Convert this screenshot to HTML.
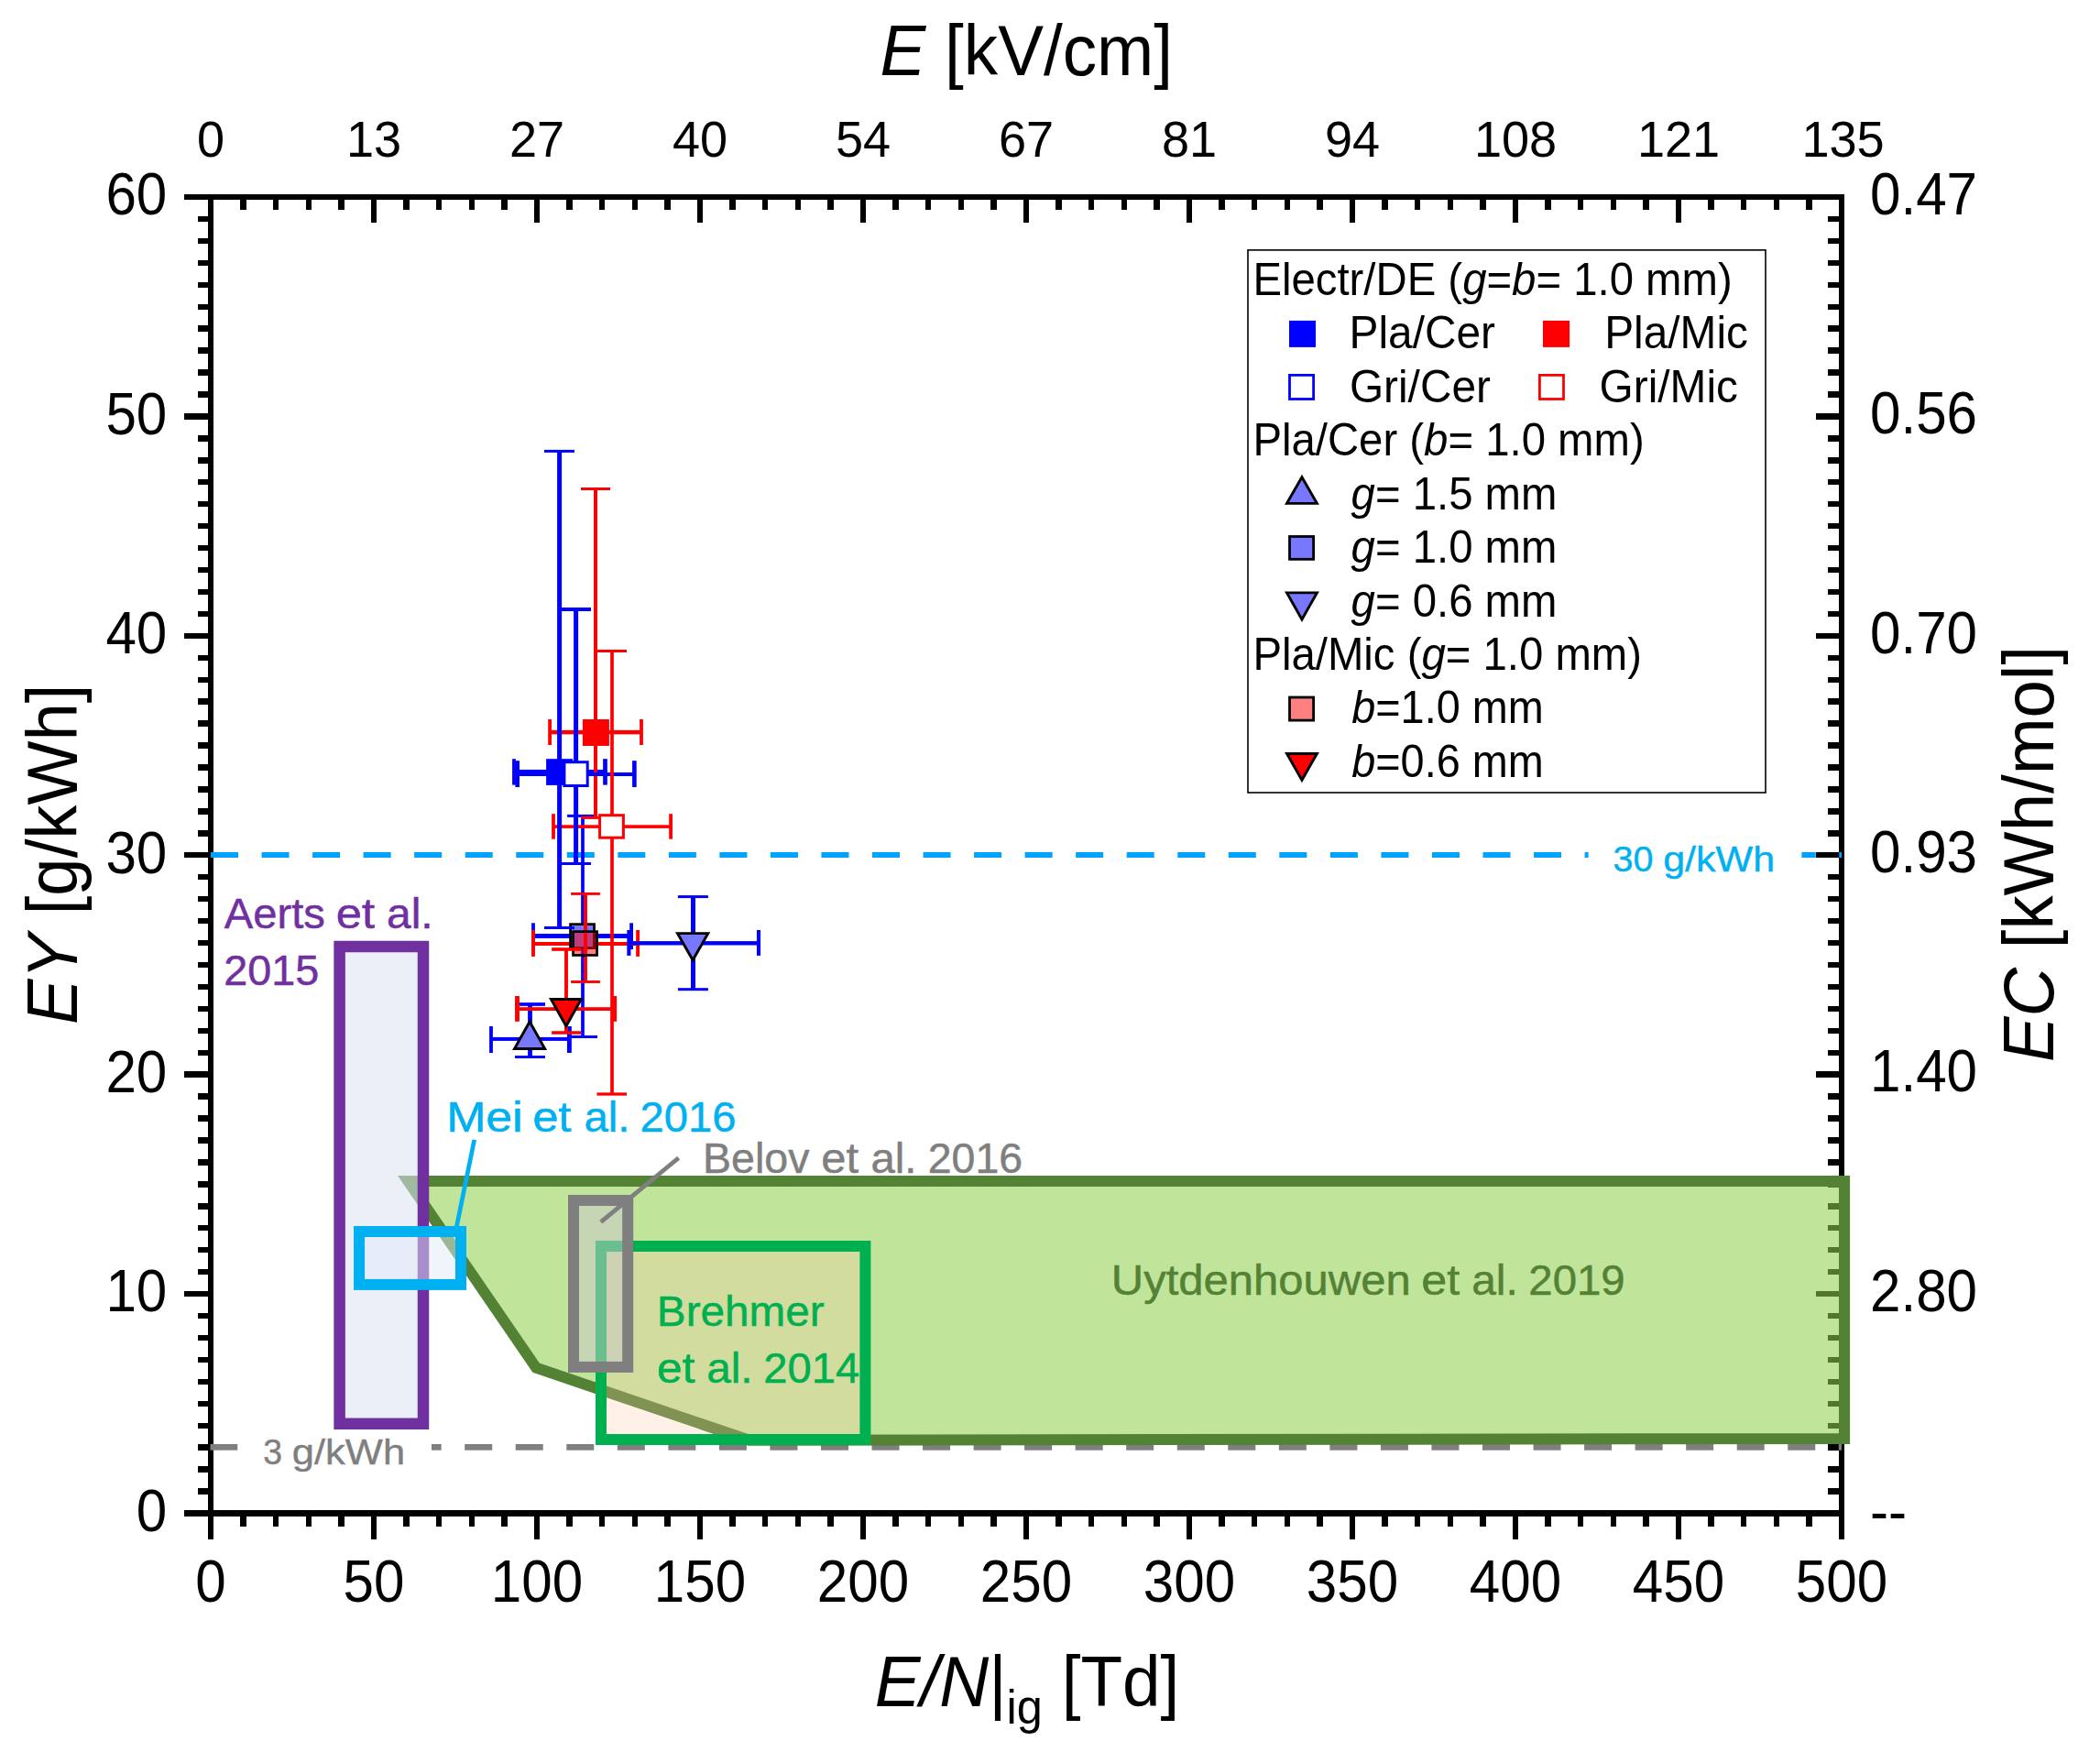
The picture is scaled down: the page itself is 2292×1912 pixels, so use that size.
<!DOCTYPE html>
<html lang="en"><head><meta charset="utf-8"><title>EY vs E/N</title>
<style>html,body{margin:0;padding:0;background:#fff}body{width:2292px;height:1912px;overflow:hidden}svg{display:block}text{font-family:'Liberation Sans', sans-serif;}</style>
</head><body>
<svg width="2292" height="1912" viewBox="0 0 2292 1912">
<rect x="0" y="0" width="2292" height="1912" fill="#ffffff"/>
<g id="axes" fill="#000" shape-rendering="crispEdges">
<rect x="201" y="212" width="1812" height="6" fill="#000"/>
<rect x="201" y="1648" width="1812" height="7" fill="#000"/>
<rect x="227" y="212" width="6" height="1467.7" fill="#000"/>
<rect x="2007" y="212" width="6" height="1467.7" fill="#000"/>
<rect x="227" y="215" width="6" height="28" fill="#000"/>
<rect x="227" y="1651.5" width="6" height="28.2" fill="#000"/>
<rect x="262.4" y="215" width="6.4" height="14" fill="#000"/>
<rect x="262.4" y="1651.5" width="6.4" height="14.2" fill="#000"/>
<rect x="298" y="215" width="6.4" height="14" fill="#000"/>
<rect x="298" y="1651.5" width="6.4" height="14.2" fill="#000"/>
<rect x="333.6" y="215" width="6.4" height="14" fill="#000"/>
<rect x="333.6" y="1651.5" width="6.4" height="14.2" fill="#000"/>
<rect x="369.2" y="215" width="6.4" height="14" fill="#000"/>
<rect x="369.2" y="1651.5" width="6.4" height="14.2" fill="#000"/>
<rect x="405" y="215" width="6" height="28" fill="#000"/>
<rect x="405" y="1651.5" width="6" height="28.2" fill="#000"/>
<rect x="440.4" y="215" width="6.4" height="14" fill="#000"/>
<rect x="440.4" y="1651.5" width="6.4" height="14.2" fill="#000"/>
<rect x="476" y="215" width="6.4" height="14" fill="#000"/>
<rect x="476" y="1651.5" width="6.4" height="14.2" fill="#000"/>
<rect x="511.6" y="215" width="6.4" height="14" fill="#000"/>
<rect x="511.6" y="1651.5" width="6.4" height="14.2" fill="#000"/>
<rect x="547.2" y="215" width="6.4" height="14" fill="#000"/>
<rect x="547.2" y="1651.5" width="6.4" height="14.2" fill="#000"/>
<rect x="583" y="215" width="6" height="28" fill="#000"/>
<rect x="583" y="1651.5" width="6" height="28.2" fill="#000"/>
<rect x="618.4" y="215" width="6.4" height="14" fill="#000"/>
<rect x="618.4" y="1651.5" width="6.4" height="14.2" fill="#000"/>
<rect x="654" y="215" width="6.4" height="14" fill="#000"/>
<rect x="654" y="1651.5" width="6.4" height="14.2" fill="#000"/>
<rect x="689.6" y="215" width="6.4" height="14" fill="#000"/>
<rect x="689.6" y="1651.5" width="6.4" height="14.2" fill="#000"/>
<rect x="725.2" y="215" width="6.4" height="14" fill="#000"/>
<rect x="725.2" y="1651.5" width="6.4" height="14.2" fill="#000"/>
<rect x="761" y="215" width="6" height="28" fill="#000"/>
<rect x="761" y="1651.5" width="6" height="28.2" fill="#000"/>
<rect x="796.4" y="215" width="6.4" height="14" fill="#000"/>
<rect x="796.4" y="1651.5" width="6.4" height="14.2" fill="#000"/>
<rect x="832" y="215" width="6.4" height="14" fill="#000"/>
<rect x="832" y="1651.5" width="6.4" height="14.2" fill="#000"/>
<rect x="867.6" y="215" width="6.4" height="14" fill="#000"/>
<rect x="867.6" y="1651.5" width="6.4" height="14.2" fill="#000"/>
<rect x="903.2" y="215" width="6.4" height="14" fill="#000"/>
<rect x="903.2" y="1651.5" width="6.4" height="14.2" fill="#000"/>
<rect x="939" y="215" width="6" height="28" fill="#000"/>
<rect x="939" y="1651.5" width="6" height="28.2" fill="#000"/>
<rect x="974.4" y="215" width="6.4" height="14" fill="#000"/>
<rect x="974.4" y="1651.5" width="6.4" height="14.2" fill="#000"/>
<rect x="1010" y="215" width="6.4" height="14" fill="#000"/>
<rect x="1010" y="1651.5" width="6.4" height="14.2" fill="#000"/>
<rect x="1045.6" y="215" width="6.4" height="14" fill="#000"/>
<rect x="1045.6" y="1651.5" width="6.4" height="14.2" fill="#000"/>
<rect x="1081.2" y="215" width="6.4" height="14" fill="#000"/>
<rect x="1081.2" y="1651.5" width="6.4" height="14.2" fill="#000"/>
<rect x="1117" y="215" width="6" height="28" fill="#000"/>
<rect x="1117" y="1651.5" width="6" height="28.2" fill="#000"/>
<rect x="1152.4" y="215" width="6.4" height="14" fill="#000"/>
<rect x="1152.4" y="1651.5" width="6.4" height="14.2" fill="#000"/>
<rect x="1188" y="215" width="6.4" height="14" fill="#000"/>
<rect x="1188" y="1651.5" width="6.4" height="14.2" fill="#000"/>
<rect x="1223.6" y="215" width="6.4" height="14" fill="#000"/>
<rect x="1223.6" y="1651.5" width="6.4" height="14.2" fill="#000"/>
<rect x="1259.2" y="215" width="6.4" height="14" fill="#000"/>
<rect x="1259.2" y="1651.5" width="6.4" height="14.2" fill="#000"/>
<rect x="1295" y="215" width="6" height="28" fill="#000"/>
<rect x="1295" y="1651.5" width="6" height="28.2" fill="#000"/>
<rect x="1330.4" y="215" width="6.4" height="14" fill="#000"/>
<rect x="1330.4" y="1651.5" width="6.4" height="14.2" fill="#000"/>
<rect x="1366" y="215" width="6.4" height="14" fill="#000"/>
<rect x="1366" y="1651.5" width="6.4" height="14.2" fill="#000"/>
<rect x="1401.6" y="215" width="6.4" height="14" fill="#000"/>
<rect x="1401.6" y="1651.5" width="6.4" height="14.2" fill="#000"/>
<rect x="1437.2" y="215" width="6.4" height="14" fill="#000"/>
<rect x="1437.2" y="1651.5" width="6.4" height="14.2" fill="#000"/>
<rect x="1473" y="215" width="6" height="28" fill="#000"/>
<rect x="1473" y="1651.5" width="6" height="28.2" fill="#000"/>
<rect x="1508.4" y="215" width="6.4" height="14" fill="#000"/>
<rect x="1508.4" y="1651.5" width="6.4" height="14.2" fill="#000"/>
<rect x="1544" y="215" width="6.4" height="14" fill="#000"/>
<rect x="1544" y="1651.5" width="6.4" height="14.2" fill="#000"/>
<rect x="1579.6" y="215" width="6.4" height="14" fill="#000"/>
<rect x="1579.6" y="1651.5" width="6.4" height="14.2" fill="#000"/>
<rect x="1615.2" y="215" width="6.4" height="14" fill="#000"/>
<rect x="1615.2" y="1651.5" width="6.4" height="14.2" fill="#000"/>
<rect x="1651" y="215" width="6" height="28" fill="#000"/>
<rect x="1651" y="1651.5" width="6" height="28.2" fill="#000"/>
<rect x="1686.4" y="215" width="6.4" height="14" fill="#000"/>
<rect x="1686.4" y="1651.5" width="6.4" height="14.2" fill="#000"/>
<rect x="1722" y="215" width="6.4" height="14" fill="#000"/>
<rect x="1722" y="1651.5" width="6.4" height="14.2" fill="#000"/>
<rect x="1757.6" y="215" width="6.4" height="14" fill="#000"/>
<rect x="1757.6" y="1651.5" width="6.4" height="14.2" fill="#000"/>
<rect x="1793.2" y="215" width="6.4" height="14" fill="#000"/>
<rect x="1793.2" y="1651.5" width="6.4" height="14.2" fill="#000"/>
<rect x="1829" y="215" width="6" height="28" fill="#000"/>
<rect x="1829" y="1651.5" width="6" height="28.2" fill="#000"/>
<rect x="1864.4" y="215" width="6.4" height="14" fill="#000"/>
<rect x="1864.4" y="1651.5" width="6.4" height="14.2" fill="#000"/>
<rect x="1900" y="215" width="6.4" height="14" fill="#000"/>
<rect x="1900" y="1651.5" width="6.4" height="14.2" fill="#000"/>
<rect x="1935.6" y="215" width="6.4" height="14" fill="#000"/>
<rect x="1935.6" y="1651.5" width="6.4" height="14.2" fill="#000"/>
<rect x="1971.2" y="215" width="6.4" height="14" fill="#000"/>
<rect x="1971.2" y="1651.5" width="6.4" height="14.2" fill="#000"/>
<rect x="2007" y="215" width="6" height="28" fill="#000"/>
<rect x="2007" y="1651.5" width="6" height="28.2" fill="#000"/>
<rect x="201" y="1648.3" width="29" height="6.4" fill="#000"/>
<rect x="216" y="1624.36" width="14" height="6.4" fill="#000"/>
<rect x="1995" y="1624.36" width="15" height="6.4" fill="#000"/>
<rect x="216" y="1600.42" width="14" height="6.4" fill="#000"/>
<rect x="1995" y="1600.42" width="15" height="6.4" fill="#000"/>
<rect x="216" y="1576.47" width="14" height="6.4" fill="#000"/>
<rect x="1995" y="1576.47" width="15" height="6.4" fill="#000"/>
<rect x="216" y="1552.53" width="14" height="6.4" fill="#000"/>
<rect x="1995" y="1552.53" width="15" height="6.4" fill="#000"/>
<rect x="216" y="1528.59" width="14" height="6.4" fill="#000"/>
<rect x="1995" y="1528.59" width="15" height="6.4" fill="#000"/>
<rect x="216" y="1504.65" width="14" height="6.4" fill="#000"/>
<rect x="1995" y="1504.65" width="15" height="6.4" fill="#000"/>
<rect x="216" y="1480.71" width="14" height="6.4" fill="#000"/>
<rect x="1995" y="1480.71" width="15" height="6.4" fill="#000"/>
<rect x="216" y="1456.77" width="14" height="6.4" fill="#000"/>
<rect x="1995" y="1456.77" width="15" height="6.4" fill="#000"/>
<rect x="216" y="1432.83" width="14" height="6.4" fill="#000"/>
<rect x="1995" y="1432.83" width="15" height="6.4" fill="#000"/>
<rect x="201" y="1408.88" width="29" height="6.4" fill="#000"/>
<rect x="1982.4" y="1408.88" width="27.6" height="6.4" fill="#000"/>
<rect x="216" y="1384.94" width="14" height="6.4" fill="#000"/>
<rect x="1995" y="1384.94" width="15" height="6.4" fill="#000"/>
<rect x="216" y="1361" width="14" height="6.4" fill="#000"/>
<rect x="1995" y="1361" width="15" height="6.4" fill="#000"/>
<rect x="216" y="1337.06" width="14" height="6.4" fill="#000"/>
<rect x="1995" y="1337.06" width="15" height="6.4" fill="#000"/>
<rect x="216" y="1313.12" width="14" height="6.4" fill="#000"/>
<rect x="1995" y="1313.12" width="15" height="6.4" fill="#000"/>
<rect x="216" y="1289.17" width="14" height="6.4" fill="#000"/>
<rect x="1995" y="1289.17" width="15" height="6.4" fill="#000"/>
<rect x="216" y="1265.23" width="14" height="6.4" fill="#000"/>
<rect x="1995" y="1265.23" width="15" height="6.4" fill="#000"/>
<rect x="216" y="1241.29" width="14" height="6.4" fill="#000"/>
<rect x="1995" y="1241.29" width="15" height="6.4" fill="#000"/>
<rect x="216" y="1217.35" width="14" height="6.4" fill="#000"/>
<rect x="1995" y="1217.35" width="15" height="6.4" fill="#000"/>
<rect x="216" y="1193.41" width="14" height="6.4" fill="#000"/>
<rect x="1995" y="1193.41" width="15" height="6.4" fill="#000"/>
<rect x="201" y="1169.47" width="29" height="6.4" fill="#000"/>
<rect x="1982.4" y="1169.47" width="27.6" height="6.4" fill="#000"/>
<rect x="216" y="1145.52" width="14" height="6.4" fill="#000"/>
<rect x="1995" y="1145.52" width="15" height="6.4" fill="#000"/>
<rect x="216" y="1121.58" width="14" height="6.4" fill="#000"/>
<rect x="1995" y="1121.58" width="15" height="6.4" fill="#000"/>
<rect x="216" y="1097.64" width="14" height="6.4" fill="#000"/>
<rect x="1995" y="1097.64" width="15" height="6.4" fill="#000"/>
<rect x="216" y="1073.7" width="14" height="6.4" fill="#000"/>
<rect x="1995" y="1073.7" width="15" height="6.4" fill="#000"/>
<rect x="216" y="1049.76" width="14" height="6.4" fill="#000"/>
<rect x="1995" y="1049.76" width="15" height="6.4" fill="#000"/>
<rect x="216" y="1025.82" width="14" height="6.4" fill="#000"/>
<rect x="1995" y="1025.82" width="15" height="6.4" fill="#000"/>
<rect x="216" y="1001.88" width="14" height="6.4" fill="#000"/>
<rect x="1995" y="1001.88" width="15" height="6.4" fill="#000"/>
<rect x="216" y="977.93" width="14" height="6.4" fill="#000"/>
<rect x="1995" y="977.93" width="15" height="6.4" fill="#000"/>
<rect x="216" y="953.99" width="14" height="6.4" fill="#000"/>
<rect x="1995" y="953.99" width="15" height="6.4" fill="#000"/>
<rect x="201" y="930.05" width="29" height="6.4" fill="#000"/>
<rect x="1982.4" y="930.05" width="27.6" height="6.4" fill="#000"/>
<rect x="216" y="906.11" width="14" height="6.4" fill="#000"/>
<rect x="1995" y="906.11" width="15" height="6.4" fill="#000"/>
<rect x="216" y="882.17" width="14" height="6.4" fill="#000"/>
<rect x="1995" y="882.17" width="15" height="6.4" fill="#000"/>
<rect x="216" y="858.22" width="14" height="6.4" fill="#000"/>
<rect x="1995" y="858.22" width="15" height="6.4" fill="#000"/>
<rect x="216" y="834.28" width="14" height="6.4" fill="#000"/>
<rect x="1995" y="834.28" width="15" height="6.4" fill="#000"/>
<rect x="216" y="810.34" width="14" height="6.4" fill="#000"/>
<rect x="1995" y="810.34" width="15" height="6.4" fill="#000"/>
<rect x="216" y="786.4" width="14" height="6.4" fill="#000"/>
<rect x="1995" y="786.4" width="15" height="6.4" fill="#000"/>
<rect x="216" y="762.46" width="14" height="6.4" fill="#000"/>
<rect x="1995" y="762.46" width="15" height="6.4" fill="#000"/>
<rect x="216" y="738.52" width="14" height="6.4" fill="#000"/>
<rect x="1995" y="738.52" width="15" height="6.4" fill="#000"/>
<rect x="216" y="714.57" width="14" height="6.4" fill="#000"/>
<rect x="1995" y="714.57" width="15" height="6.4" fill="#000"/>
<rect x="201" y="690.63" width="29" height="6.4" fill="#000"/>
<rect x="1982.4" y="690.63" width="27.6" height="6.4" fill="#000"/>
<rect x="216" y="666.69" width="14" height="6.4" fill="#000"/>
<rect x="1995" y="666.69" width="15" height="6.4" fill="#000"/>
<rect x="216" y="642.75" width="14" height="6.4" fill="#000"/>
<rect x="1995" y="642.75" width="15" height="6.4" fill="#000"/>
<rect x="216" y="618.81" width="14" height="6.4" fill="#000"/>
<rect x="1995" y="618.81" width="15" height="6.4" fill="#000"/>
<rect x="216" y="594.87" width="14" height="6.4" fill="#000"/>
<rect x="1995" y="594.87" width="15" height="6.4" fill="#000"/>
<rect x="216" y="570.92" width="14" height="6.4" fill="#000"/>
<rect x="1995" y="570.92" width="15" height="6.4" fill="#000"/>
<rect x="216" y="546.98" width="14" height="6.4" fill="#000"/>
<rect x="1995" y="546.98" width="15" height="6.4" fill="#000"/>
<rect x="216" y="523.04" width="14" height="6.4" fill="#000"/>
<rect x="1995" y="523.04" width="15" height="6.4" fill="#000"/>
<rect x="216" y="499.1" width="14" height="6.4" fill="#000"/>
<rect x="1995" y="499.1" width="15" height="6.4" fill="#000"/>
<rect x="216" y="475.16" width="14" height="6.4" fill="#000"/>
<rect x="1995" y="475.16" width="15" height="6.4" fill="#000"/>
<rect x="201" y="451.22" width="29" height="6.4" fill="#000"/>
<rect x="1982.4" y="451.22" width="27.6" height="6.4" fill="#000"/>
<rect x="216" y="427.27" width="14" height="6.4" fill="#000"/>
<rect x="1995" y="427.27" width="15" height="6.4" fill="#000"/>
<rect x="216" y="403.33" width="14" height="6.4" fill="#000"/>
<rect x="1995" y="403.33" width="15" height="6.4" fill="#000"/>
<rect x="216" y="379.39" width="14" height="6.4" fill="#000"/>
<rect x="1995" y="379.39" width="15" height="6.4" fill="#000"/>
<rect x="216" y="355.45" width="14" height="6.4" fill="#000"/>
<rect x="1995" y="355.45" width="15" height="6.4" fill="#000"/>
<rect x="216" y="331.51" width="14" height="6.4" fill="#000"/>
<rect x="1995" y="331.51" width="15" height="6.4" fill="#000"/>
<rect x="216" y="307.57" width="14" height="6.4" fill="#000"/>
<rect x="1995" y="307.57" width="15" height="6.4" fill="#000"/>
<rect x="216" y="283.63" width="14" height="6.4" fill="#000"/>
<rect x="1995" y="283.63" width="15" height="6.4" fill="#000"/>
<rect x="216" y="259.68" width="14" height="6.4" fill="#000"/>
<rect x="1995" y="259.68" width="15" height="6.4" fill="#000"/>
<rect x="216" y="235.74" width="14" height="6.4" fill="#000"/>
<rect x="1995" y="235.74" width="15" height="6.4" fill="#000"/>
<rect x="201" y="211.8" width="29" height="6.4" fill="#000"/>
</g>
<g id="reflines">
<rect x="229.5" y="1576" width="30" height="6.7" fill="#7f7f7f"/>
<rect x="285.04" y="1576" width="30" height="6.7" fill="#7f7f7f"/>
<rect x="340.58" y="1576" width="30" height="6.7" fill="#7f7f7f"/>
<rect x="396.12" y="1576" width="30" height="6.7" fill="#7f7f7f"/>
<rect x="451.66" y="1576" width="30" height="6.7" fill="#7f7f7f"/>
<rect x="507.2" y="1576" width="30" height="6.7" fill="#7f7f7f"/>
<rect x="562.74" y="1576" width="30" height="6.7" fill="#7f7f7f"/>
<rect x="618.28" y="1576" width="30" height="6.7" fill="#7f7f7f"/>
<rect x="673.82" y="1576" width="30" height="6.7" fill="#7f7f7f"/>
<rect x="729.36" y="1576" width="30" height="6.7" fill="#7f7f7f"/>
<rect x="784.9" y="1576" width="30" height="6.7" fill="#7f7f7f"/>
<rect x="840.44" y="1576" width="30" height="6.7" fill="#7f7f7f"/>
<rect x="895.98" y="1576" width="30" height="6.7" fill="#7f7f7f"/>
<rect x="951.52" y="1576" width="30" height="6.7" fill="#7f7f7f"/>
<rect x="1007.06" y="1576" width="30" height="6.7" fill="#7f7f7f"/>
<rect x="1062.6" y="1576" width="30" height="6.7" fill="#7f7f7f"/>
<rect x="1118.14" y="1576" width="30" height="6.7" fill="#7f7f7f"/>
<rect x="1173.68" y="1576" width="30" height="6.7" fill="#7f7f7f"/>
<rect x="1229.22" y="1576" width="30" height="6.7" fill="#7f7f7f"/>
<rect x="1284.76" y="1576" width="30" height="6.7" fill="#7f7f7f"/>
<rect x="1340.3" y="1576" width="30" height="6.7" fill="#7f7f7f"/>
<rect x="1395.84" y="1576" width="30" height="6.7" fill="#7f7f7f"/>
<rect x="1451.38" y="1576" width="30" height="6.7" fill="#7f7f7f"/>
<rect x="1506.92" y="1576" width="30" height="6.7" fill="#7f7f7f"/>
<rect x="1562.46" y="1576" width="30" height="6.7" fill="#7f7f7f"/>
<rect x="1618" y="1576" width="30" height="6.7" fill="#7f7f7f"/>
<rect x="1673.54" y="1576" width="30" height="6.7" fill="#7f7f7f"/>
<rect x="1729.08" y="1576" width="30" height="6.7" fill="#7f7f7f"/>
<rect x="1784.62" y="1576" width="30" height="6.7" fill="#7f7f7f"/>
<rect x="1840.16" y="1576" width="30" height="6.7" fill="#7f7f7f"/>
<rect x="1895.7" y="1576" width="30" height="6.7" fill="#7f7f7f"/>
<rect x="1951.24" y="1576" width="30" height="6.7" fill="#7f7f7f"/>
<rect x="2006.78" y="1576" width="3.22" height="6.7" fill="#7f7f7f"/>
<rect x="259.5" y="1549.35" width="211.5" height="60" fill="#ffffff"/>
<rect x="230" y="930" width="30" height="6" fill="#00a2ff"/>
<rect x="285.54" y="930" width="30" height="6" fill="#00a2ff"/>
<rect x="341.08" y="930" width="30" height="6" fill="#00a2ff"/>
<rect x="396.62" y="930" width="30" height="6" fill="#00a2ff"/>
<rect x="452.16" y="930" width="30" height="6" fill="#00a2ff"/>
<rect x="507.7" y="930" width="30" height="6" fill="#00a2ff"/>
<rect x="563.24" y="930" width="30" height="6" fill="#00a2ff"/>
<rect x="618.78" y="930" width="30" height="6" fill="#00a2ff"/>
<rect x="674.32" y="930" width="30" height="6" fill="#00a2ff"/>
<rect x="729.86" y="930" width="30" height="6" fill="#00a2ff"/>
<rect x="785.4" y="930" width="30" height="6" fill="#00a2ff"/>
<rect x="840.94" y="930" width="30" height="6" fill="#00a2ff"/>
<rect x="896.48" y="930" width="30" height="6" fill="#00a2ff"/>
<rect x="952.02" y="930" width="30" height="6" fill="#00a2ff"/>
<rect x="1007.56" y="930" width="30" height="6" fill="#00a2ff"/>
<rect x="1063.1" y="930" width="30" height="6" fill="#00a2ff"/>
<rect x="1118.64" y="930" width="30" height="6" fill="#00a2ff"/>
<rect x="1174.18" y="930" width="30" height="6" fill="#00a2ff"/>
<rect x="1229.72" y="930" width="30" height="6" fill="#00a2ff"/>
<rect x="1285.26" y="930" width="30" height="6" fill="#00a2ff"/>
<rect x="1340.8" y="930" width="30" height="6" fill="#00a2ff"/>
<rect x="1396.34" y="930" width="30" height="6" fill="#00a2ff"/>
<rect x="1451.88" y="930" width="30" height="6" fill="#00a2ff"/>
<rect x="1507.42" y="930" width="30" height="6" fill="#00a2ff"/>
<rect x="1562.96" y="930" width="30" height="6" fill="#00a2ff"/>
<rect x="1618.5" y="930" width="30" height="6" fill="#00a2ff"/>
<rect x="1674.04" y="930" width="30" height="6" fill="#00a2ff"/>
<rect x="1729.58" y="930" width="30" height="6" fill="#00a2ff"/>
<rect x="1785.12" y="930" width="30" height="6" fill="#00a2ff"/>
<rect x="1840.66" y="930" width="30" height="6" fill="#00a2ff"/>
<rect x="1896.2" y="930" width="30" height="6" fill="#00a2ff"/>
<rect x="1951.74" y="930" width="30" height="6" fill="#00a2ff"/>
<rect x="2007.28" y="930" width="2.72" height="6" fill="#00a2ff"/>
<rect x="1733.6" y="903" width="232.8" height="60" fill="#ffffff"/>
</g>
<g id="ticklabels" fill="#000">
<text transform="translate(230 171) scale(0.98 1)" font-size="55.2" text-anchor="middle">0</text>
<text transform="translate(408 171) scale(0.98 1)" font-size="55.2" text-anchor="middle">13</text>
<text transform="translate(586 171) scale(0.98 1)" font-size="55.2" text-anchor="middle">27</text>
<text transform="translate(764 171) scale(0.98 1)" font-size="55.2" text-anchor="middle">40</text>
<text transform="translate(942 171) scale(0.98 1)" font-size="55.2" text-anchor="middle">54</text>
<text transform="translate(1120 171) scale(0.98 1)" font-size="55.2" text-anchor="middle">67</text>
<text transform="translate(1298 171) scale(0.98 1)" font-size="55.2" text-anchor="middle">81</text>
<text transform="translate(1476 171) scale(0.98 1)" font-size="55.2" text-anchor="middle">94</text>
<text transform="translate(1654 171) scale(0.98 1)" font-size="55.2" text-anchor="middle">108</text>
<text transform="translate(1832 171) scale(0.98 1)" font-size="55.2" text-anchor="middle">121</text>
<text transform="translate(2011.5 171) scale(0.98 1)" font-size="55.2" text-anchor="middle">135</text>
<text transform="translate(230 1747.8) scale(0.94 1)" font-size="64" text-anchor="middle">0</text>
<text transform="translate(408 1747.8) scale(0.94 1)" font-size="64" text-anchor="middle">50</text>
<text transform="translate(586 1747.8) scale(0.94 1)" font-size="64" text-anchor="middle">100</text>
<text transform="translate(764 1747.8) scale(0.94 1)" font-size="64" text-anchor="middle">150</text>
<text transform="translate(942 1747.8) scale(0.94 1)" font-size="64" text-anchor="middle">200</text>
<text transform="translate(1120 1747.8) scale(0.94 1)" font-size="64" text-anchor="middle">250</text>
<text transform="translate(1298 1747.8) scale(0.94 1)" font-size="64" text-anchor="middle">300</text>
<text transform="translate(1476 1747.8) scale(0.94 1)" font-size="64" text-anchor="middle">350</text>
<text transform="translate(1654 1747.8) scale(0.94 1)" font-size="64" text-anchor="middle">400</text>
<text transform="translate(1832 1747.8) scale(0.94 1)" font-size="64" text-anchor="middle">450</text>
<text transform="translate(2010 1747.8) scale(0.94 1)" font-size="64" text-anchor="middle">500</text>
<text transform="translate(182.3 1670.8) scale(0.94 1)" font-size="64" text-anchor="end">0</text>
<text transform="translate(182.3 1431.38) scale(0.94 1)" font-size="64" text-anchor="end">10</text>
<text transform="translate(182.3 1191.97) scale(0.94 1)" font-size="64" text-anchor="end">20</text>
<text transform="translate(182.3 952.55) scale(0.94 1)" font-size="64" text-anchor="end">30</text>
<text transform="translate(182.3 713.13) scale(0.94 1)" font-size="64" text-anchor="end">40</text>
<text transform="translate(182.3 473.72) scale(0.94 1)" font-size="64" text-anchor="end">50</text>
<text transform="translate(182.3 234.3) scale(0.94 1)" font-size="64" text-anchor="end">60</text>
<text transform="translate(2041 1672.3) scale(0.94 1)" font-size="64">--</text>
<text transform="translate(2041 1430.88) scale(0.94 1)" font-size="64">2.80</text>
<text transform="translate(2041 1191.47) scale(0.94 1)" font-size="64">1.40</text>
<text transform="translate(2041 952.05) scale(0.94 1)" font-size="64">0.93</text>
<text transform="translate(2041 712.63) scale(0.94 1)" font-size="64">0.70</text>
<text transform="translate(2041 473.22) scale(0.94 1)" font-size="64">0.56</text>
<text transform="translate(2041 233.8) scale(0.94 1)" font-size="64">0.47</text>
</g>
<g id="titles" fill="#000">
<text transform="translate(1120.3 82.2) scale(0.96 1)" font-size="77.8" text-anchor="middle"><tspan font-style="italic">E</tspan> [kV/cm]</text>
<text transform="translate(954.7 1862.1) scale(0.96 1)" font-size="77.8"><tspan font-style="italic">E/N</tspan>|<tspan font-size="52.6" dy="19">ig</tspan><tspan dy="-19"> [Td]</tspan></text>
<text transform="translate(83.6 932.3) rotate(-90) scale(0.95 1)" font-size="78.2" text-anchor="middle"><tspan font-style="italic">EY</tspan> [g/kWh]</text>
<text transform="translate(2241.2 932) rotate(-90) scale(0.95 1)" font-size="78.2" text-anchor="middle"><tspan font-style="italic">EC</tspan> [kWh/mol]</text>
</g>
<g id="regions" stroke-linejoin="miter" stroke-miterlimit="10">
<polygon points="445.4,1289 2013.1,1289 2013.1,1569.9 817.8,1571.8 585.2,1492.8" fill="rgba(146,208,80,0.57)" stroke="#548235" stroke-width="12"/>
<rect x="370.6" y="1033" width="91.4" height="520.8" fill="rgba(218,227,243,0.57)" stroke="#7030a0" stroke-width="12.5"/>
<rect x="656" y="1360" width="288.4" height="211" fill="rgba(255,197,167,0.26)" stroke="#00b050" stroke-width="12"/>
<rect x="626" y="1310" width="59.2" height="181.9" fill="rgba(202,202,202,0.53)" stroke="#7f7f7f" stroke-width="12"/>
<line x1="740.7" y1="1263.6" x2="655.8" y2="1333.6" stroke="#7f7f7f" stroke-width="4.7"/>
<rect x="392.05" y="1344" width="110.95" height="57.9" fill="rgba(226,236,248,0.5)" stroke="#00b0f0" stroke-width="12"/>
<line x1="517.7" y1="1243.9" x2="498.4" y2="1338.5" stroke="#00b0f0" stroke-width="4.7"/>
</g>
<g id="annot">
<text x="1760.5" y="950.6" font-size="38.7" fill="#00b0f0" stroke="#00b0f0" stroke-width="0.4" textLength="44.02" lengthAdjust="spacingAndGlyphs">30</text>
<text x="1815.19" y="950.6" font-size="38.7" fill="#00b0f0" stroke="#00b0f0" stroke-width="0.4" textLength="121.96" lengthAdjust="spacingAndGlyphs">g/kWh</text>
<text x="287.18" y="1598" font-size="39.4" fill="#7f7f7f" stroke="#7f7f7f" stroke-width="0.4" textLength="20.84" lengthAdjust="spacingAndGlyphs">3</text>
<text x="318.87" y="1598" font-size="39.4" fill="#7f7f7f" stroke="#7f7f7f" stroke-width="0.4" textLength="123.21" lengthAdjust="spacingAndGlyphs">g/kWh</text>
<text x="244.81" y="1012.6" font-size="46.8" fill="#7030a0" stroke="#7030a0" stroke-width="0.5" textLength="110.09" lengthAdjust="spacingAndGlyphs">Aerts</text>
<text x="366.76" y="1012.6" font-size="46.8" fill="#7030a0" stroke="#7030a0" stroke-width="0.5" textLength="42.5" lengthAdjust="spacingAndGlyphs">et</text>
<text x="422.09" y="1012.6" font-size="46.8" fill="#7030a0" stroke="#7030a0" stroke-width="0.5" textLength="50.58" lengthAdjust="spacingAndGlyphs">al.</text>
<text x="244.36" y="1074.5" font-size="46.4" fill="#7030a0" stroke="#7030a0" stroke-width="0.5" textLength="103.98" lengthAdjust="spacingAndGlyphs">2015</text>
<text x="487.45" y="1234.7" font-size="46.8" fill="#00b0f0" stroke="#00b0f0" stroke-width="0.5" textLength="83.43" lengthAdjust="spacingAndGlyphs">Mei</text>
<text x="581.48" y="1234.7" font-size="46.8" fill="#00b0f0" stroke="#00b0f0" stroke-width="0.5" textLength="42.18" lengthAdjust="spacingAndGlyphs">et</text>
<text x="637.51" y="1234.7" font-size="46.8" fill="#00b0f0" stroke="#00b0f0" stroke-width="0.5" textLength="50" lengthAdjust="spacingAndGlyphs">al.</text>
<text x="698.64" y="1234.7" font-size="46.4" fill="#00b0f0" stroke="#00b0f0" stroke-width="0.5" textLength="104.81" lengthAdjust="spacingAndGlyphs">2016</text>
<text x="767.09" y="1280.3" font-size="46.6" fill="#7f7f7f" stroke="#7f7f7f" stroke-width="0.5" textLength="116.38" lengthAdjust="spacingAndGlyphs">Belov</text>
<text x="896.25" y="1280.3" font-size="46.6" fill="#7f7f7f" stroke="#7f7f7f" stroke-width="0.5" textLength="40.8" lengthAdjust="spacingAndGlyphs">et</text>
<text x="950.41" y="1280.3" font-size="46.6" fill="#7f7f7f" stroke="#7f7f7f" stroke-width="0.5" textLength="50" lengthAdjust="spacingAndGlyphs">al.</text>
<text x="1012.78" y="1280.3" font-size="46.4" fill="#7f7f7f" stroke="#7f7f7f" stroke-width="0.5" textLength="103.35" lengthAdjust="spacingAndGlyphs">2016</text>
<text x="716.89" y="1446.6" font-size="46.6" fill="#00b050" stroke="#00b050" stroke-width="0.5" textLength="182.64" lengthAdjust="spacingAndGlyphs">Brehmer</text>
<text x="716.9" y="1508.7" font-size="46.6" fill="#00b050" stroke="#00b050" stroke-width="0.5" textLength="41.75" lengthAdjust="spacingAndGlyphs">et</text>
<text x="771.19" y="1508.7" font-size="46.6" fill="#00b050" stroke="#00b050" stroke-width="0.5" textLength="50.46" lengthAdjust="spacingAndGlyphs">al.</text>
<text x="833.34" y="1508.7" font-size="46.4" fill="#00b050" stroke="#00b050" stroke-width="0.5" textLength="104.96" lengthAdjust="spacingAndGlyphs">2014</text>
<text x="1212.83" y="1413.2" font-size="46.4" fill="#548235" stroke="#548235" stroke-width="0.5" textLength="326.93" lengthAdjust="spacingAndGlyphs">Uytdenhouwen</text>
<text x="1551.28" y="1413.2" font-size="46.4" fill="#548235" stroke="#548235" stroke-width="0.5" textLength="42.07" lengthAdjust="spacingAndGlyphs">et</text>
<text x="1606.19" y="1413.2" font-size="46.4" fill="#548235" stroke="#548235" stroke-width="0.5" textLength="50.58" lengthAdjust="spacingAndGlyphs">al.</text>
<text x="1668.34" y="1413.2" font-size="46.2" fill="#548235" stroke="#548235" stroke-width="0.5" textLength="105.22" lengthAdjust="spacingAndGlyphs">2019</text>
</g>
<g id="data">
<rect x="576.1" y="1096" width="4.8" height="57.5" fill="#0000ff"/>
<rect x="562" y="1094.15" width="33" height="3.7" fill="#0000ff"/>
<rect x="562" y="1152.05" width="33" height="2.9" fill="#0000ff"/>
<rect x="536" y="1131.9" width="85.4" height="4" fill="#0000ff"/>
<rect x="534.1" y="1120" width="3.8" height="29" fill="#0000ff"/>
<rect x="618.95" y="1120" width="4.9" height="29" fill="#0000ff"/>
<polygon points="578.1,1115 594.69,1144.45 561.51,1144.45" fill="#7878ff" stroke="#000" stroke-width="2.9" stroke-linejoin="miter"/>
<rect x="634.15" y="890.4" width="3.7" height="241.1" fill="#0000ff"/>
<rect x="619.1" y="888.9" width="32.9" height="3" fill="#0000ff"/>
<rect x="619.1" y="1130" width="32.9" height="3" fill="#0000ff"/>
<rect x="582" y="1019.05" width="107.1" height="4.9" fill="#0000ff"/>
<rect x="580.1" y="1007.3" width="3.8" height="28.8" fill="#0000ff"/>
<rect x="687.2" y="1007.3" width="3.8" height="28.8" fill="#0000ff"/>
<rect x="582" y="1028" width="114.1" height="4" fill="#ff0000"/>
<rect x="580.05" y="1015" width="3.9" height="28.9" fill="#ff0000"/>
<rect x="694.15" y="1015" width="3.9" height="28.9" fill="#ff0000"/>
<rect x="622.55" y="1008.65" width="26" height="26" fill="#7878ff" stroke="#000" stroke-width="2.7"/>
<rect x="754" y="978.6" width="5" height="101.1" fill="#0000ff"/>
<rect x="739.9" y="977.1" width="33" height="3" fill="#0000ff"/>
<rect x="739.9" y="1078.2" width="33" height="3" fill="#0000ff"/>
<rect x="686.4" y="1027.1" width="141.6" height="4.4" fill="#0000ff"/>
<rect x="684.35" y="1015" width="4.1" height="27.9" fill="#0000ff"/>
<rect x="825.95" y="1015" width="4.1" height="27.9" fill="#0000ff"/>
<polygon points="739.51,1018.65 772.79,1018.65 756.15,1047.8" fill="#7878ff" stroke="#000" stroke-width="2.9" stroke-linejoin="miter"/>
<rect x="600.1" y="796.85" width="99.9" height="4.5" fill="#ff0000"/>
<rect x="598.2" y="785" width="3.8" height="28" fill="#ff0000"/>
<rect x="698.1" y="785" width="3.8" height="28" fill="#ff0000"/>
<rect x="604" y="900.3" width="128.1" height="3.6" fill="#ff0000"/>
<rect x="602.1" y="888.2" width="3.8" height="27.5" fill="#ff0000"/>
<rect x="730.2" y="888.2" width="3.8" height="27.5" fill="#ff0000"/>
<rect x="561" y="839.95" width="99.5" height="4.5" fill="#0000ff"/>
<rect x="559.1" y="828.2" width="3.8" height="28.4" fill="#0000ff"/>
<rect x="658.15" y="828.2" width="4.7" height="28.4" fill="#0000ff"/>
<rect x="608.1" y="492.4" width="5" height="520.1" fill="#0000ff"/>
<rect x="594" y="490.9" width="33" height="3" fill="#0000ff"/>
<rect x="594" y="1011" width="33" height="3" fill="#0000ff"/>
<rect x="648" y="533.5" width="4" height="358.9" fill="#ff0000"/>
<rect x="634" y="532" width="32" height="3" fill="#ff0000"/>
<rect x="634" y="890.9" width="32" height="3" fill="#ff0000"/>
<rect x="564.7" y="843" width="127.7" height="4" fill="#0000ff"/>
<rect x="562.4" y="830.2" width="4.6" height="28.8" fill="#0000ff"/>
<rect x="690.1" y="830.2" width="4.6" height="28.8" fill="#0000ff"/>
<rect x="626.1" y="665" width="5" height="277.5" fill="#0000ff"/>
<rect x="612.4" y="663" width="32.6" height="4" fill="#0000ff"/>
<rect x="612.4" y="941" width="32.6" height="3" fill="#0000ff"/>
<rect x="666.15" y="710.5" width="3.7" height="483.5" fill="#ff0000"/>
<rect x="651.5" y="709" width="32.5" height="3" fill="#ff0000"/>
<rect x="651.5" y="1192.35" width="32.5" height="3.3" fill="#ff0000"/>
<rect x="596.1" y="828.2" width="29" height="28.7" fill="#0000ff"/>
<rect x="635.9" y="785" width="29" height="29" fill="#ff0000"/>
<rect x="615.9" y="831.7" width="25.3" height="25.8" fill="#ffffff" stroke="#0000ff" stroke-width="3"/>
<rect x="654.6" y="889.7" width="25.8" height="24.5" fill="#ffffff" stroke="#ff0000" stroke-width="3"/>
<rect x="637.05" y="975.4" width="3.9" height="96.1" fill="#ff0000"/>
<rect x="623.1" y="973.95" width="31.8" height="2.9" fill="#ff0000"/>
<rect x="623.1" y="1070.05" width="31.8" height="2.9" fill="#ff0000"/>
<rect x="625.55" y="1016.65" width="26" height="25.8" fill="rgba(255,0,0,0.5)" stroke="#000" stroke-width="2.7"/>
<rect x="616.05" y="1036" width="3.9" height="91" fill="#ff0000"/>
<rect x="602.1" y="1034.2" width="32" height="3.6" fill="#ff0000"/>
<rect x="602.1" y="1125.25" width="32" height="3.5" fill="#ff0000"/>
<rect x="564.5" y="1099.2" width="106.5" height="3.8" fill="#ff0000"/>
<rect x="562.05" y="1087" width="4.9" height="27.8" fill="#ff0000"/>
<rect x="668.9" y="1087" width="4.2" height="27.8" fill="#ff0000"/>
<polygon points="601.41,1090.45 634.39,1090.45 617.9,1119.8" fill="#ff0000" stroke="#000" stroke-width="2.9" stroke-linejoin="miter"/>
</g>
<g id="legend">
<rect x="1362" y="272.9" width="565" height="592.1" fill="#ffffff" stroke="#000" stroke-width="1.6"/>
<text transform="translate(1367.4 321.7) scale(0.96 1)" font-size="49.3" fill="#000">Electr/DE (<tspan font-style="italic">g</tspan>=<tspan font-style="italic">b</tspan>= 1.0 mm)</text>
<text transform="translate(1472.6 380.17) scale(0.97 1)" font-size="49.3" fill="#000">Pla/Cer</text>
<text transform="translate(1751.2 380.17) scale(0.97 1)" font-size="49.3" fill="#000">Pla/Mic</text>
<text transform="translate(1472.9 438.64) scale(0.97 1)" font-size="49.3" fill="#000">Gri/Cer</text>
<text transform="translate(1745.6 438.64) scale(0.97 1)" font-size="49.3" fill="#000">Gri/Mic</text>
<text transform="translate(1367.4 497.11) scale(0.96 1)" font-size="49.3" fill="#000">Pla/Cer (<tspan font-style="italic">b</tspan>= 1.0 mm)</text>
<text transform="translate(1474.6 555.58) scale(0.96 1)" font-size="49.3" fill="#000"><tspan font-style="italic">g</tspan>= 1.5 mm</text>
<text transform="translate(1474.6 614.05) scale(0.96 1)" font-size="49.3" fill="#000"><tspan font-style="italic">g</tspan>= 1.0 mm</text>
<text transform="translate(1474.6 672.52) scale(0.96 1)" font-size="49.3" fill="#000"><tspan font-style="italic">g</tspan>= 0.6 mm</text>
<text transform="translate(1367.4 730.99) scale(0.96 1)" font-size="49.3" fill="#000">Pla/Mic (<tspan font-style="italic">g</tspan>= 1.0 mm)</text>
<text transform="translate(1475.2 789.46) scale(0.95 1)" font-size="49.3" fill="#000"><tspan font-style="italic">b</tspan>=1.0 mm</text>
<text transform="translate(1475.2 847.93) scale(0.95 1)" font-size="49.3" fill="#000"><tspan font-style="italic">b</tspan>=0.6 mm</text>
<rect x="1407" y="349.9" width="29" height="29" fill="#0000ff"/>
<rect x="1684" y="349.9" width="29.1" height="29" fill="#ff0000"/>
<rect x="1407.5" y="409.4" width="26.1" height="26.1" fill="#ffffff" stroke="#0000ff" stroke-width="2.8"/>
<rect x="1680.4" y="409.4" width="26.1" height="26.1" fill="#ffffff" stroke="#ff0000" stroke-width="2.8"/>
<polygon points="1420.95,520.7 1437.39,549.35 1404.51,549.35" fill="#7878ff" stroke="#000" stroke-width="2.9" stroke-linejoin="miter"/>
<rect x="1407.5" y="585.5" width="26.1" height="24.8" fill="#7878ff" stroke="#000" stroke-width="2.8"/>
<polygon points="1404.51,646.85 1437.39,646.85 1420.95,676" fill="#7878ff" stroke="#000" stroke-width="2.9" stroke-linejoin="miter"/>
<rect x="1407.5" y="761" width="26.1" height="25.1" fill="#ff8080" stroke="#000" stroke-width="2.8"/>
<polygon points="1404.51,822.45 1437.39,822.45 1420.95,851.3" fill="#ff0000" stroke="#000" stroke-width="2.9" stroke-linejoin="miter"/>
</g>
</svg>
</body></html>
